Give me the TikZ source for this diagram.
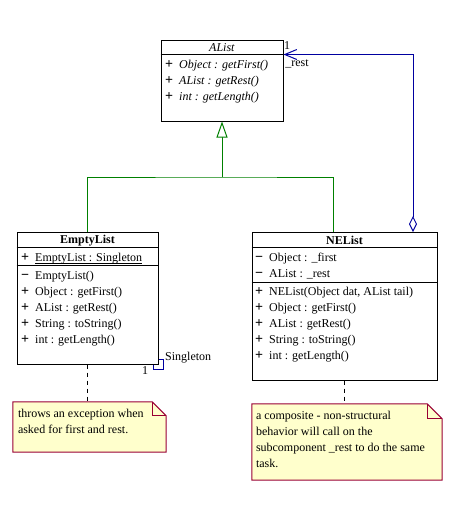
\documentclass[tikz,border=0pt]{standalone}
\usepackage{fontspec}
\setmainfont{Liberation Serif}
\usepackage{tikz}
\usetikzlibrary{positioning}
\usetikzlibrary{arrows.meta}
\usetikzlibrary{backgrounds}
\usepackage{xcolor}
\definecolor{umlgreen}{RGB}{0,128,0}
\definecolor{umlblue}{RGB}{0,0,160}
\definecolor{notefill}{RGB}{255,255,204}
\definecolor{noteline}{RGB}{153,0,51}
\newcommand{\pub}{{\fontsize{14}{16}\selectfont\bfseries +}\hspace{6pt}}
\newcommand{\priv}{{\fontsize{14}{16}\selectfont\bfseries \char"2212}\hspace{6pt}}
\newsavebox{\staticbox}
\newcommand{\staticname}[1]{\sbox{\staticbox}{#1}\rlap{\rule[-2.5pt]{\wd\staticbox}{0.8pt}}\usebox{\staticbox}}

\begin{document}
\begin{tikzpicture}[
    x=1pt, y=-1pt,
    every node/.style={font=\fontsize{12}{16}\selectfont},
    classbox/.style={draw, line width=1pt, fill=white, inner sep=0pt},
    classname/.style={inner sep=0pt, font=\fontsize{12}{16}\selectfont\bfseries},
    member/.style={anchor=west, inner sep=0pt, text height=9pt, text depth=3pt},
    divider/.style={line width=1pt},
    genline/.style={draw=umlgreen, line width=1pt},
    inherit/.style={genline, -{Triangle[open, fill=white, length=16pt, width=11pt]}},
    assoc/.style={draw=umlblue, line width=1pt, {Diamond[open, fill=white, length=16pt, width=8pt]}-{Straight Barb[length=12pt, width=10pt]}},
    tag/.style={draw=umlblue, line width=1pt, minimum size=10pt, inner sep=0pt},
    notebox/.style={fill=notefill, draw=noteline, line width=1pt},
    notetext/.style={anchor=north west, align=left, inner sep=0pt},
    anchorline/.style={line width=1pt, dash pattern=on 4pt off 4pt}
]
    \useasboundingbox (0,0) rectangle (454,515);

    % Abstract class AList
    \node[classbox, minimum width=122pt, minimum height=81pt] (AList) at (222,80.5) {};
    \draw[divider] ([yshift=-15pt]AList.north west) -- ([yshift=-15pt]AList.north east);
    \node[inner sep=0pt] (AListName) at (222,48) {\textit{AList}};
    \node[member] (AListFirst) at (165,65) {\pub\textit{Object : getFirst()}};
    \node[member] (AListRest) at (165,81) {\pub\textit{AList : getRest()}};
    \node[member] (AListLength) at (165,97) {\pub\textit{int : getLength()}};

    % Class EmptyList
    \node[classbox, minimum width=141pt, minimum height=132pt] (EmptyList) at (87.5,298) {};
    \draw[divider] ([yshift=-16pt]EmptyList.north west) -- ([yshift=-16pt]EmptyList.north east);
    \draw[divider] ([yshift=-34pt]EmptyList.north west) -- ([yshift=-34pt]EmptyList.north east);
    \node[classname] (EmptyListName) at (87.5,240.5) {EmptyList};
    \node[member] (EmptyListInst) at (21,258) {\pub\staticname{EmptyList : Singleton}};
    \node[member] (EmptyListCtor) at (21,276) {\priv EmptyList()};
    \node[member] (EmptyListFirst) at (21,292) {\pub Object : getFirst()};
    \node[member] (EmptyListRest) at (21,308) {\pub AList : getRest()};
    \node[member] (EmptyListString) at (21,324) {\pub String : toString()};
    \node[member] (EmptyListLength) at (21,340) {\pub int : getLength()};

    % Singleton tag
    \begin{scope}[on background layer]
        \node[tag] (singletonTag) at (EmptyList.south east) {};
    \end{scope}
    \node[anchor=west, inner sep=0pt] (singletonName) at (165,358) {Singleton};
    \node[inner sep=0pt] (singletonMult) at (145,371) {1};

    % Class NEList
    \node[classbox, minimum width=185pt, minimum height=148pt] (NEList) at (344.5,306) {};
    \draw[divider] ([yshift=-16pt]NEList.north west) -- ([yshift=-16pt]NEList.north east);
    \draw[divider] ([yshift=-51pt]NEList.north west) -- ([yshift=-51pt]NEList.north east);
    \node[classname] (NEListName) at (344.5,240.5) {NEList};
    \node[member] (NEListFirstField) at (255,258) {\priv Object : \_first};
    \node[member] (NEListRestField) at (255,274) {\priv AList : \_rest};
    \node[member] (NEListCtor) at (255,292) {\pub NEList(Object dat, AList tail)};
    \node[member] (NEListFirst) at (255,308) {\pub Object : getFirst()};
    \node[member] (NEListRest) at (255,324) {\pub AList : getRest()};
    \node[member] (NEListString) at (255,340) {\pub String : toString()};
    \node[member] (NEListLength) at (255,356) {\pub int : getLength()};

    % Generalization
    \coordinate (genJoin) at (222,177);
    \coordinate (neJoin) at (333,232);
    \draw[genline] (EmptyList.north) |- (genJoin) -| (neJoin);
    \draw[inherit] (genJoin) -- (AList.south);

    % Aggregation _rest
    \coordinate (aggEnd) at (413,232);
    \draw[assoc] (aggEnd) |- ([yshift=-15pt]AList.north east);
    \node[inner sep=0pt] (restMult) at (287,46) {1};
    \node[inner sep=0pt] (restRole) at (297,64) {\_rest};

    % Notes
    \node[minimum width=153pt, minimum height=50pt] (note1) at (89.5,427) {};
    \filldraw[notebox] (note1.north west) -- ([xshift=-14pt]note1.north east)
        -- ([yshift=-14pt]note1.north east) -- (note1.south east)
        -- (note1.south west) -- cycle;
    \draw[notebox, fill=none] ([xshift=-14pt]note1.north east) |- ([yshift=-14pt]note1.north east);
    \node[notetext] (note1txt) at ([shift={(5pt,-7pt)}]note1.north west)
        {throws an exception when\\asked for first and rest.};

    \node[minimum width=190pt, minimum height=76pt] (note2) at (347,442) {};
    \filldraw[notebox] (note2.north west) -- ([xshift=-15pt]note2.north east)
        -- ([yshift=-15pt]note2.north east) -- (note2.south east)
        -- (note2.south west) -- cycle;
    \draw[notebox, fill=none] ([xshift=-15pt]note2.north east) |- ([yshift=-15pt]note2.north east);
    \node[notetext] (note2txt) at ([shift={(4pt,-7pt)}]note2.north west)
        {a composite - non-structural\\behavior will call on the\\subcomponent \_rest to do the same\\task.};

    % Note anchors
    \draw[anchorline] (EmptyList.south) -- (EmptyList.south |- note1.north);
    \draw[anchorline] (NEList.south) -- (NEList.south |- note2.north);
\end{tikzpicture}
\end{document}
